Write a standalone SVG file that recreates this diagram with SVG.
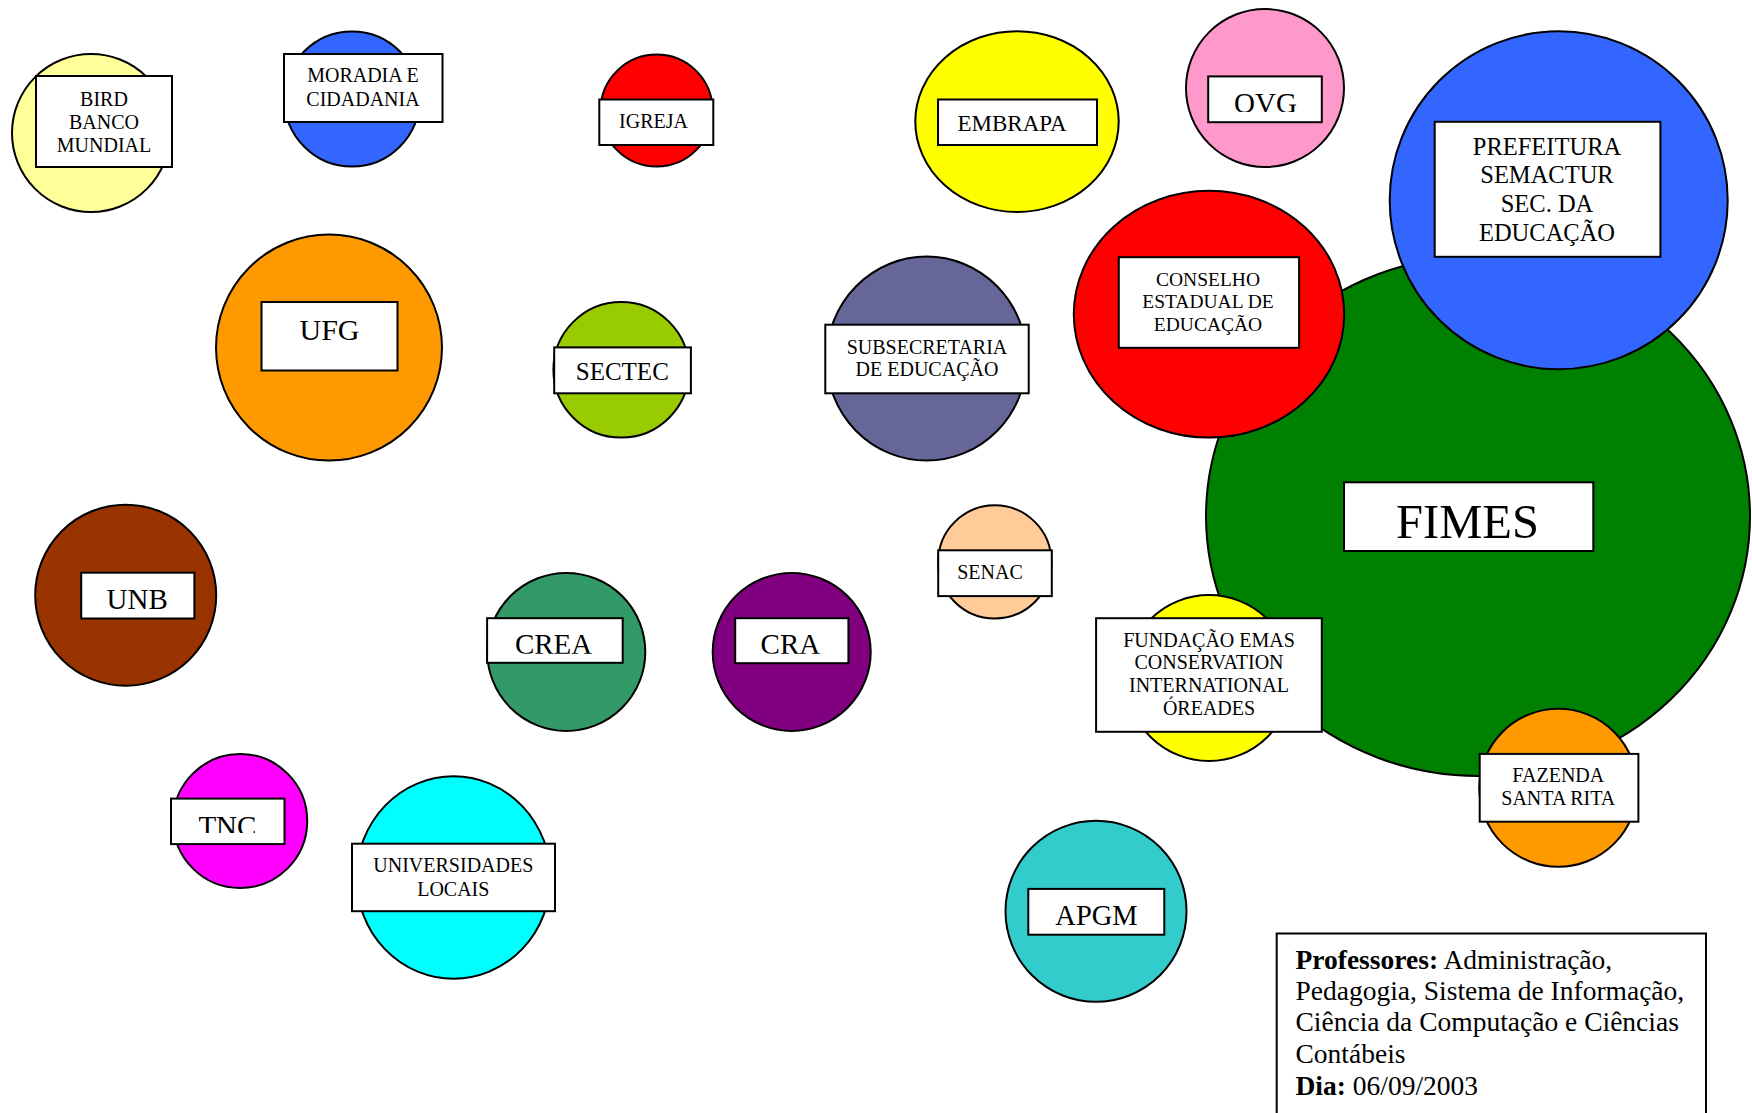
<svg xmlns="http://www.w3.org/2000/svg" width="1752" height="1113" viewBox="0 0 1752 1113">
<style>
.c{stroke:#000;stroke-width:2}
.b{fill:#fff;stroke:#000;stroke-width:2}
text{font-family:"Liberation Serif","Times New Roman",serif;fill:#000;text-anchor:middle}
.s20{font-size:20px}
.s29{font-size:29px}
.lg{font-size:27.5px;text-anchor:start}
</style>
<defs>
<clipPath id="cOVG"><rect x="1200" y="70" width="130" height="41.9"/></clipPath>
<clipPath id="cUNB"><rect x="75" y="565" width="125" height="44.3"/></clipPath>
<clipPath id="cCREA"><rect x="480" y="610" width="150" height="43.7"/></clipPath>
<clipPath id="cCRA"><rect x="730" y="610" width="125" height="43.7"/></clipPath>
<clipPath id="cTNC"><rect x="165" y="790" width="125" height="43.1"/></clipPath>
</defs>
<rect width="1752" height="1113" fill="#fff"/>
<g id="connectors"/>
<g id="fimes">
<ellipse class="c" cx="1478" cy="516" rx="272" ry="260" fill="#008000"/>
<rect class="b" x="1344" y="482.3" width="249.3" height="68.7"/>
<text x="1467.5" y="537.5" style="font-size:48.5px">FIMES</text>
</g>
<g id="bird">
<circle class="c" cx="91" cy="133" r="79" fill="#FFFF99"/>
<rect class="b" x="36" y="76" width="136" height="91"/>
<text class="s20" x="104" y="105.5">BIRD</text>
<text class="s20" x="104" y="128.6">BANCO</text>
<text class="s20" x="104" y="152">MUNDIAL</text>
</g>
<g id="moradia">
<circle class="c" cx="352" cy="99" r="67.5" fill="#3366FF"/>
<rect class="b" x="284" y="54" width="158.5" height="68"/>
<text class="s20" x="363" y="82.4">MORADIA E</text>
<text class="s20" x="363" y="105.9">CIDADANIA</text>
</g>
<g id="igreja">
<circle class="c" cx="656.6" cy="110.5" r="56" fill="#FF0000"/>
<rect class="b" x="599.3" y="99.5" width="114" height="45.5"/>
<text class="s20" x="653.5" y="127.9">IGREJA</text>
</g>
<g id="embrapa">
<ellipse class="c" cx="1017" cy="121.6" rx="101.7" ry="90.4" fill="#FFFF00"/>
<rect class="b" x="938" y="99.5" width="159" height="45.5"/>
<text x="1012" y="130.7" style="font-size:23px">EMBRAPA</text>
</g>
<g id="ovg">
<circle class="c" cx="1265" cy="88" r="79" fill="#FF99CC"/>
<rect class="b" x="1208.2" y="76.4" width="113.6" height="45.8"/>
<text class="s29" x="1265.5" y="113.3" clip-path="url(#cOVG)">OVG</text>
</g>
<g id="prefeitura">
<circle class="c" cx="1558.7" cy="200.3" r="169" fill="#3366FF"/>
<rect class="b" x="1434.7" y="121.8" width="225.7" height="135"/>
<text x="1547" y="155.2" style="font-size:24.5px">PREFEITURA</text>
<text x="1547" y="183.3" style="font-size:24.5px">SEMACTUR</text>
<text x="1547" y="212.1" style="font-size:24.5px">SEC. DA</text>
<text x="1547" y="240.9" style="font-size:24.5px">EDUCAÇÃO</text>
</g>
<g id="ufg">
<circle class="c" cx="329" cy="347.6" r="113" fill="#FF9900"/>
<rect class="b" x="261.5" y="302" width="136" height="68.5"/>
<text x="329.5" y="340" style="font-size:30px">UFG</text>
</g>
<g id="sectec">
<circle class="c" cx="621.2" cy="369.8" r="67.8" fill="#99CC00"/>
<rect class="b" x="554.2" y="347.4" width="136.7" height="45.9"/>
<text x="622.3" y="380.1" style="font-size:25px">SECTEC</text>
</g>
<g id="subsecretaria">
<ellipse class="c" cx="926.6" cy="358.6" rx="100" ry="102" fill="#666699"/>
<rect class="b" x="825.3" y="324.7" width="203.4" height="68.6"/>
<text class="s20" x="927" y="353.5">SUBSECRETARIA</text>
<text class="s20" x="927" y="375.8">DE EDUCAÇÃO</text>
</g>
<g id="conselho">
<ellipse class="c" cx="1209" cy="314.2" rx="135.2" ry="123.4" fill="#FF0000"/>
<rect class="b" x="1118.8" y="257.2" width="180.3" height="90.6"/>
<text x="1208" y="286" style="font-size:19.5px">CONSELHO</text>
<text x="1208" y="307.5" style="font-size:19.5px">ESTADUAL DE</text>
<text x="1208" y="330.5" style="font-size:19.5px">EDUCAÇÃO</text>
</g>
<g id="unb">
<circle class="c" cx="125.7" cy="595.2" r="90.5" fill="#993300"/>
<rect class="b" x="81.2" y="572.7" width="113.2" height="45.8"/>
<text class="s29" x="137.2" y="608.9" clip-path="url(#cUNB)">UNB</text>
</g>
<g id="senac">
<circle class="c" cx="994.8" cy="561.9" r="56.6" fill="#FFCC99"/>
<rect class="b" x="938.2" y="550.3" width="113.6" height="45.8"/>
<text class="s20" x="990" y="579.1">SENAC</text>
</g>
<g id="crea">
<circle class="c" cx="566.3" cy="651.9" r="79" fill="#339966"/>
<rect class="b" x="487.1" y="618.2" width="135.6" height="44.6"/>
<text class="s29" x="553.6" y="654.1" clip-path="url(#cCREA)">CREA</text>
</g>
<g id="cra">
<circle class="c" cx="791.7" cy="651.9" r="79" fill="#800080"/>
<rect class="b" x="735.2" y="618.2" width="113.2" height="45"/>
<text class="s29" x="790.4" y="654.1" clip-path="url(#cCRA)">CRA</text>
</g>
<g id="fundacao">
<circle class="c" cx="1209" cy="678" r="83" fill="#FFFF00"/>
<rect class="b" x="1096.1" y="618.2" width="225.7" height="113.6"/>
<text class="s20" x="1209" y="647">FUNDAÇÃO EMAS</text>
<text class="s20" x="1209" y="669">CONSERVATION</text>
<text class="s20" x="1209" y="692">INTERNATIONAL</text>
<text class="s20" x="1209" y="714.5">ÓREADES</text>
</g>
<g id="fazenda">
<circle class="c" cx="1558.3" cy="787.8" r="79" fill="#FF9900"/>
<rect class="b" x="1479.7" y="753.9" width="158.7" height="67.8"/>
<text class="s20" x="1558.3" y="782.3">FAZENDA</text>
<text class="s20" x="1558.3" y="805.4">SANTA RITA</text>
</g>
<g id="tnc">
<circle class="c" cx="240.2" cy="821" r="67" fill="#FF00FF"/>
<rect class="b" x="171" y="798.6" width="113.5" height="45.5"/>
<text class="s29" x="227.4" y="835.6" clip-path="url(#cTNC)">TNC</text>
</g>
<g id="universidades">
<ellipse class="c" cx="453.5" cy="877.5" rx="97" ry="101.3" fill="#00FFFF"/>
<rect class="b" x="352" y="843.7" width="203" height="67.5"/>
<text class="s20" x="453.3" y="872.2">UNIVERSIDADES</text>
<text class="s20" x="453.3" y="896">LOCAIS</text>
</g>
<g id="apgm">
<circle class="c" cx="1096" cy="911.3" r="90.5" fill="#33CCCC"/>
<rect class="b" x="1028.3" y="888.9" width="136" height="45.8"/>
<text x="1096.5" y="924.7" style="font-size:28.5px">APGM</text>
</g>
<g id="legenda">
<rect class="b" x="1276.7" y="933.5" width="429.3" height="200"/>
<text class="lg" x="1295.5" y="968.5"><tspan font-weight="bold">Professores:</tspan> Administração,</text>
<text class="lg" x="1295.5" y="1000">Pedagogia, Sistema de Informação,</text>
<text class="lg" x="1295.5" y="1031.3">Ciência da Computação e Ciências</text>
<text class="lg" x="1295.5" y="1063">Contábeis</text>
<text class="lg" x="1295.5" y="1094.9"><tspan font-weight="bold">Dia:</tspan> 06/09/2003</text>
</g>
</svg>
